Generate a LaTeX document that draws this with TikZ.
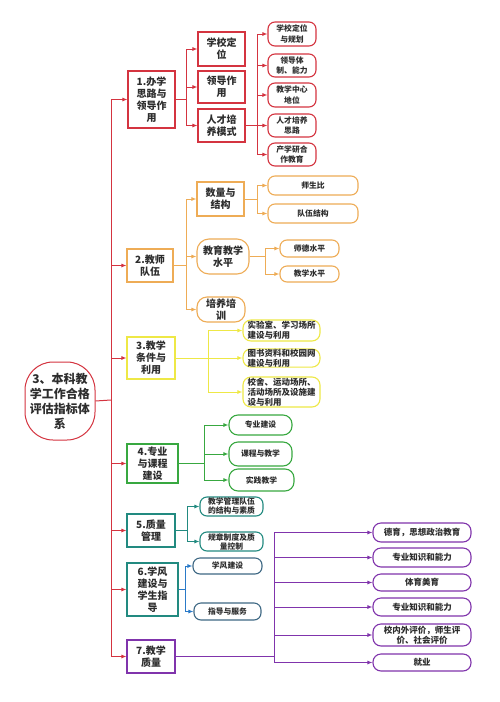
\documentclass[tikz,border=0pt]{standalone}
\usepackage{fontspec}
\setmainfont{Noto Sans CJK SC}
\usepackage{xcolor}
\usetikzlibrary{arrows.meta,positioning,calc}
\definecolor{cred}{RGB}{212,52,64}
\definecolor{corange}{RGB}{238,172,86}
\definecolor{cyellow}{RGB}{238,232,70}
\definecolor{cgreen}{RGB}{56,168,64}
\definecolor{cteal}{RGB}{34,138,128}
\definecolor{cblue}{RGB}{42,122,200}
\definecolor{cslate}{RGB}{62,104,132}
\definecolor{cpurple}{RGB}{128,52,172}
\definecolor{txt}{RGB}{45,45,45}

\begin{document}
\begin{tikzpicture}[x=1pt,y=-1pt,>={Latex[length=5pt,width=4pt]},
  sz/.style 2 args={minimum width=#1pt,minimum height=#2pt},
  box/.style={draw=#1,line width=1.1pt,fill=white,inner sep=0pt,align=center,text=txt,
    font=\bfseries\fontsize{10}{12}\selectfont},
  leaf/.style={draw=#1,line width=1.1pt,fill=white,inner sep=0pt,align=center,text=txt,
    rounded corners=7pt,font=\bfseries\fontsize{7.8}{10.5}\selectfont},
  wide/.style={leaf=#1,rounded corners=8pt,font=\bfseries\fontsize{8.5}{10}\selectfont},
  wire/.style={draw=#1,line width=1pt},
  arr/.style={wire=#1,->}]
  \useasboundingbox[fill=white] (0,0) rectangle (500,702);

  \node[box=cred,sz={70}{78},rounded corners=28pt,line width=1pt,
    font=\bfseries\fontsize{12}{15}\selectfont] (root) at (60,401) {3、本科教\\学工作合格\\评估指标体\\系};

  \node[box=cred,sz={47}{57}] (n1) at (151.5,99.5) {1.办学\\思路与\\领导作\\用};
  \node[box=cred,sz={47}{34}] (n1a) at (221.5,49) {学校定\\位};
  \node[box=cred,sz={47}{32}] (n1b) at (221.5,87) {领导作\\用};
  \node[box=cred,sz={47}{33}] (n1c) at (221.5,125.5) {人才培\\养模式};
  \node[leaf=cred,sz={48}{24}] (r1) at (292,34) {学校定位\\与规划};
  \node[leaf=cred,sz={48}{23}] (r2) at (292,65.5) {领导体\\制、能力};
  \node[leaf=cred,sz={48}{24}] (r3) at (292,95) {教学中心\\地位};
  \node[leaf=cred,sz={48}{23}] (r4) at (292,125.5) {人才培养\\思路};
  \node[leaf=cred,sz={48}{23}] (r5) at (292,154.5) {产学研合\\作教育};

  \node[box=corange,sz={46}{33}] (n2) at (150,265.5) {2.教师\\队伍};
  \node[box=corange,sz={47}{34}] (n2a) at (220.5,199) {数量与\\结构};
  \node[box=corange,sz={52}{35},rounded corners=12pt] (n2b) at (223,256.5) {教育教学\\水平};
  \node[box=corange,sz={48}{25},rounded corners=10pt] (n2c) at (221,309.5) {培养培\\训};
  \node[leaf=corange,sz={90}{19}] (o1) at (313,185.5) {师生比};
  \node[leaf=corange,sz={90}{19}] (o2) at (313,213.5) {队伍结构};
  \node[leaf=corange,sz={59}{17}] (o3) at (309.5,248.5) {师德水平};
  \node[leaf=corange,sz={59}{16}] (o4) at (309.5,274) {教学水平};

  \node[box=cyellow,sz={48}{42}] (n3) at (151,358) {3.教学\\条件与\\利用};
  \node[wide=cyellow,sz={77}{21},align=left] (y1) at (281.5,330.5) {实验室、学习场所\\建设与利用};
  \node[wide=cyellow,sz={77}{18},align=left] (y2) at (281.5,358) {图书资料和校园网\\建设与利用};
  \node[wide=cyellow,sz={77}{30},align=left] (y3) at (281.5,392) {校舍、运动场所、\\活动场所及设施建\\设与利用};

  \node[box=cgreen,sz={51}{39}] (n4) at (152.5,463.5) {4.专业\\与课程\\建设};
  \node[leaf=cgreen,sz={63}{20},rounded corners=9pt] (g1) at (260.5,425) {专业建设};
  \node[leaf=cgreen,sz={63}{24},rounded corners=9pt] (g2) at (260.5,454) {课程与教学};
  \node[leaf=cgreen,sz={65}{22},rounded corners=9pt] (g3) at (261.5,480) {实践教学};

  \node[box=cteal,sz={48}{33}] (n5) at (151,530.5) {5.质量\\管理};
  \node[leaf=cteal,sz={63}{19},font=\bfseries\fontsize{7.8}{9}\selectfont] (t1) at (231.5,506.5) {教学管理队伍\\的结构与素质};
  \node[leaf=cteal,sz={63}{19},font=\bfseries\fontsize{7.8}{9}\selectfont] (t2) at (231.5,541.5) {规章制度及质\\量控制};

  \node[box=cteal,sz={51}{53}] (n6) at (152.5,589.5) {6.学风\\建设与\\学生指\\导};
  \node[leaf=cslate,sz={69}{16}] (s1) at (227.5,566) {学风建设};
  \node[leaf=cslate,sz={67}{17}] (s2) at (227.5,611.5) {指导与服务};

  \node[box=cpurple,sz={48}{33}] (n7) at (151,656.5) {7.教学\\质量};
  \node[wide=cpurple,sz={98}{19}] (p1) at (422,532.5) {德育，思想政治教育};
  \node[wide=cpurple,sz={98}{19}] (p2) at (422,557.5) {专业知识和能力};
  \node[wide=cpurple,sz={98}{17}] (p3) at (422,582.5) {体育美育};
  \node[wide=cpurple,sz={98}{18}] (p4) at (422,607) {专业知识和能力};
  \node[wide=cpurple,sz={98}{22}] (p5) at (422,635) {校内外评价，师生评\\价、社会评价};
  \node[wide=cpurple,sz={98}{17}] (p6) at (422,662.5) {就业};

  \coordinate (trunk) at (111,400);
  \draw[wire=cred] (root.east) -- (trunk);
  \draw[wire=cred] (trunk |- n1.west) -- (trunk |- n7.west);
  \foreach \n in {n1,n2,n3,n4,n5,n6,n7}
    \draw[arr=cred] (trunk |- \n.west) -- (\n.west);

  \draw[wire=cred] (n1.east) -- ++(11,0) coordinate (j1);
  \foreach \c in {n1a,n1b,n1c} \draw[arr=cred] (j1) |- (\c.west);
  \draw[wire=cred] (n1c.east) -- ++(12,0) coordinate (j1c);
  \foreach \c in {r1,r2,r3,r4,r5} \draw[arr=cred] (j1c) |- (\c.west);

  \draw[wire=corange] (n2.east) -- ++(13,0) coordinate (j2);
  \foreach \c in {n2a,n2b,n2c} \draw[arr=corange] (j2) |- (\c.west);
  \draw[wire=corange] (n2a.east) -- ++(13,0) coordinate (j2a);
  \foreach \c in {o1,o2} \draw[arr=corange] (j2a) |- (\c.west);
  \draw[wire=corange] (n2b.east) -- ++(16,0) coordinate (j2b);
  \foreach \c in {o3,o4} \draw[arr=corange] (j2b) |- (\c.west);

  \draw[wire=cyellow] (n3.east) -- ++(33,0) coordinate (j3);
  \foreach \c in {y1,y2,y3} \draw[arr=cyellow] (j3) |- (\c.west);

  \draw[wire=cgreen] (n4.east) -- ++(26,0) coordinate (j4);
  \foreach \c in {g1,g2,g3} \draw[arr=cgreen] (j4) |- (\c.west);

  \draw[wire=cteal] (n5.east) -- ++(12,0) coordinate (j5);
  \foreach \c in {t1,t2} \draw[arr=cteal] (j5) |- (\c.west);

  \draw[wire=cblue] (n6.east) -- ++(7,0) coordinate (j6);
  \foreach \c in {s1,s2} \draw[arr=cblue] (j6) |- (\c.west);

  \draw[wire=cpurple] (n7.east) -- ++(99,0) coordinate (j7);
  \foreach \c in {p1,p2,p3,p4,p5,p6} \draw[arr=cpurple] (j7) |- (\c.west);
\end{tikzpicture}
\end{document}
